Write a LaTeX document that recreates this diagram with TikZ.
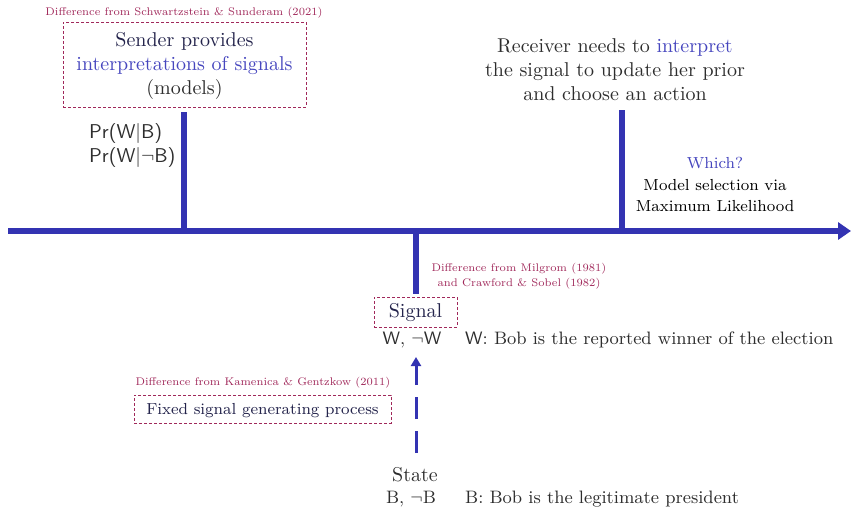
\documentclass[tikz,border=0pt]{standalone}
\usetikzlibrary{arrows.meta}
\definecolor{lineblue}{RGB}{51,51,178}
\definecolor{txtblue}{RGB}{70,70,190}
\definecolor{txtgrey}{RGB}{45,45,45}
\definecolor{txtnavy}{RGB}{35,35,75}
\definecolor{refred}{RGB}{160,40,90}
\newcommand{\Sx}[2][c]{\scalebox{2}{\begin{tabular}{@{}#1@{}}#2\end{tabular}}}
\newcommand{\Sr}[1]{\scalebox{1.58}{\begin{tabular}{@{}c@{}}#1\end{tabular}}}
\begin{document}
\begin{tikzpicture}[x=1pt,y=-1pt,
  bigtxt/.style={font=\fontsize{10}{12}\selectfont, text=txtgrey, inner sep=0pt},
  ninetxt/.style={font=\fontsize{9}{11}\selectfont, text=txtgrey, inner sep=0pt},
  midtxt/.style={font=\fontsize{8}{10.8}\selectfont, text=txtgrey, inner sep=0pt},
  reftxt/.style={font=\fontsize{7}{9.5}\selectfont, text=refred, inner sep=0pt},
  refbox/.style={draw=refred, densely dashed, line width=0.9pt, inner sep=0pt},
  axisline/.style={draw=lineblue, line width=6pt},
  ]
\useasboundingbox (0,0) rectangle (851,508);

% axis
\coordinate (axL) at (8,231);
\coordinate (axR) at (851,231);
\coordinate (ax1) at (184,231);
\coordinate (ax2) at (622,231);
\coordinate (ax3) at (416,231);
\coordinate (t1) at (184,112);
\coordinate (t2) at (622,110);
\coordinate (t3) at (416,294);
\draw[axisline, -{Triangle[length=13pt,width=17pt]}] (axL) -- (axR);
\draw[axisline] (ax1) -- (t1);
\draw[axisline] (ax2) -- (t2);
\draw[axisline] (ax3) -- (t3);

% sender
\node[reftxt] (ref1) at (184,13) {\Sr{Difference from Schwartzstein \& Sunderam (2021)}};
\node[refbox, minimum width=243pt, minimum height=85pt] (sender) at (184.5,64.5) {};
\node[bigtxt] (sendtxt) at (184.5,66) {\Sx{\textcolor{txtnavy}{Sender provides}\\ \textcolor{txtblue}{interpretations of signals}\\ (models)}};
\node[bigtxt, anchor=west] (pr) at (89,146) {\Sx[l]{\textsf{Pr(W}$|$\textsf{B)}\\ \textsf{Pr(W}$|\neg$\textsf{B)}}};

% receiver
\node[bigtxt] (recv) at (615,72) {\Sx{Receiver needs to \textcolor{txtblue}{interpret}\\ the signal to update her prior\\ and choose an action}};
\node[midtxt] (which) at (715,186) {\Sx{\textcolor{txtblue}{Which?}\\ \textcolor{black}{Model selection via}\\ \textcolor{black}{Maximum Likelihood}}};

% signal
\node[reftxt] (ref2) at (519,276) {\Sr{Difference from Milgrom (1981)\\ and Crawford \& Sobel (1982)}};
\node[refbox, minimum width=83pt, minimum height=30pt] (signal) at (415.5,312) {};
\node[bigtxt, text=txtnavy] (sigtxt) at (415.5,313) {\Sx{Signal}};
\node[ninetxt] (W) at (412,340) {\Sx{\textsf{W}, $\neg$\textsf{W}}};
\node[ninetxt, anchor=west] (Wdef) at (465,340) {\Sx{\textsf{W}: Bob is the reported winner of the election}};

% process
\node[reftxt] (ref3) at (263,382) {\Sr{Difference from Kamenica \& Gentzkow (2011)}};
\node[refbox, minimum width=257pt, minimum height=28pt] (fixed) at (262.5,409) {};
\node[midtxt, text=txtnavy] (fixtxt) at (262.5,410) {\Sx{Fixed signal generating process}};

% state
\node[bigtxt] (state) at (415,477) {\Sx{State}};
\node[ninetxt] (B) at (411,499) {\Sx{B, $\neg$B}};
\node[ninetxt, anchor=west] (Bdef) at (465,499) {\Sx{B: Bob is the legitimate president}};

\coordinate (dashS) at (416,453);
\coordinate (dashE) at (416,357);
\draw[draw=lineblue, line width=3pt, dash pattern=on 22pt off 12pt, -{Triangle[length=9pt,width=10pt]}] (dashS) -- (dashE);
\end{tikzpicture}
\end{document}
